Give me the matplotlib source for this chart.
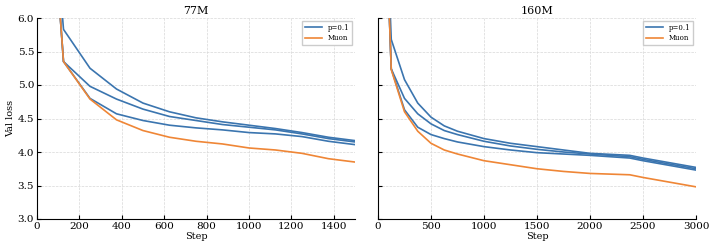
import numpy as np
import matplotlib.pyplot as plt

plt.rcParams['font.family'] = 'DejaVu Serif'

# 77M run
steps_77 = [0, 125, 250, 375, 500, 625, 750, 875, 1000, 1125, 1250, 1375, 1500]
p_77_a = [10.8, 5.83, 5.25, 4.94, 4.73, 4.60, 4.51, 4.45, 4.40, 4.35, 4.29, 4.22, 4.17]
p_77_b = [10.8, 5.35, 4.98, 4.79, 4.64, 4.53, 4.47, 4.41, 4.37, 4.33, 4.27, 4.20, 4.15]
p_77_c = [10.8, 5.35, 4.80, 4.57, 4.47, 4.40, 4.36, 4.33, 4.29, 4.27, 4.23, 4.16, 4.11]
muon_77 = [10.8, 5.35, 4.79, 4.48, 4.32, 4.22, 4.16, 4.12, 4.06, 4.03, 3.98, 3.90, 3.85]

# 160M run
steps_160 = [0, 125, 250, 375, 500, 625, 750, 1000, 1250, 1500, 1750, 2000, 2375, 2500, 2750, 3000]
p_160_a = [10.8, 5.68, 5.08, 4.73, 4.52, 4.39, 4.31, 4.20, 4.13, 4.08, 4.03, 3.98, 3.95, 3.91, 3.84, 3.77]
p_160_b = [10.8, 5.24, 4.80, 4.57, 4.42, 4.32, 4.26, 4.16, 4.09, 4.04, 4.00, 3.97, 3.93, 3.89, 3.82, 3.75]
p_160_c = [10.8, 5.24, 4.63, 4.37, 4.26, 4.20, 4.15, 4.08, 4.03, 3.99, 3.97, 3.95, 3.91, 3.87, 3.80, 3.73]
muon_160 = [10.8, 5.23, 4.60, 4.31, 4.13, 4.03, 3.97, 3.87, 3.81, 3.75, 3.71, 3.68, 3.66, 3.62, 3.55, 3.48]

blue = '#3b75af'
orange = '#ef8636'

fig = plt.figure(figsize=(7.15, 2.5), dpi=100)
ax1 = fig.add_axes([37/715, 31/250, 318/715, 201/250])
ax2 = fig.add_axes([378/715, 31/250, 318/715, 201/250], sharey=ax1)

panels = [
    (ax1, '77M', steps_77, [p_77_a, p_77_b, p_77_c], muon_77, [0, 1500], np.arange(0, 1501, 200)),
    (ax2, '160M', steps_160, [p_160_a, p_160_b, p_160_c], muon_160, [0, 3000], np.arange(0, 3001, 500)),
]

for ax, title, steps, p_lines, muon, xlim, xticks in panels:
    for i, ys in enumerate(p_lines):
        ax.plot(steps, ys, color=blue, lw=1.2, label='p=0.1' if i == 0 else None)
    ax.plot(steps, muon, color=orange, lw=1.2, label='Muon')
    ax.set_xlim(xlim)
    ax.set_ylim(3.0, 6.0)
    ax.set_xticks(xticks)
    ax.set_yticks(np.arange(3.0, 6.01, 0.5))
    ax.set_title(title, fontsize=8, pad=3)
    ax.set_xlabel('Step', fontsize=7, labelpad=1)
    ax.grid(True, ls='--', lw=0.5, color='#d8d8d8')
    ax.spines['top'].set_visible(False)
    ax.spines['right'].set_visible(False)
    ax.tick_params(direction='in', labelsize=7.5, length=3, pad=2)
    ax.legend(loc='upper right', fontsize=5, handlelength=2.4, borderpad=0.45,
              labelspacing=0.35, borderaxespad=0.4,
              fancybox=False, edgecolor='#cccccc', framealpha=1)

ax1.set_ylabel('Val loss', fontsize=7, labelpad=2)
ax1.yaxis.set_major_formatter(plt.FormatStrFormatter('%.1f'))
ax2.tick_params(labelleft=False)

fig.savefig('out.png', dpi=100)
